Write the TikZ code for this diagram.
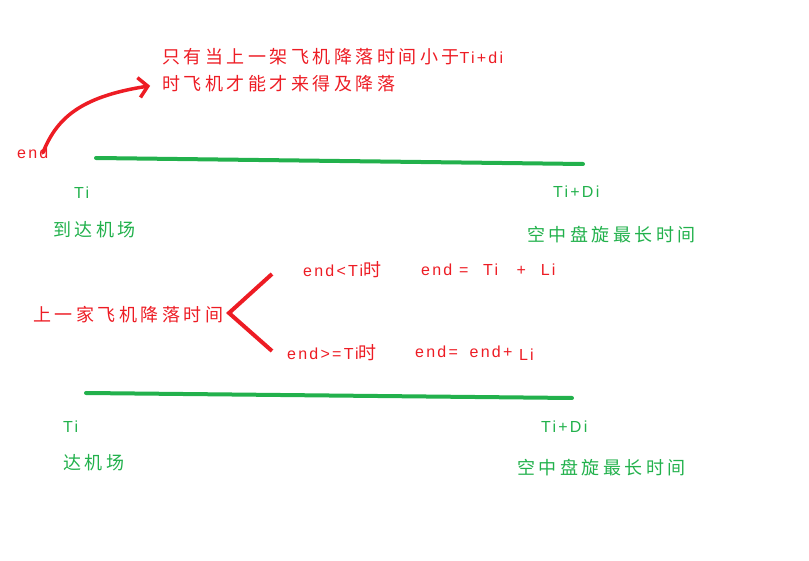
\documentclass[tikz,border=0pt]{standalone}
\usepackage{fontspec}
\usetikzlibrary{arrows.meta}
\newfontfamily\cjk[LetterSpace=19.4]{Noto Sans CJK SC}
\newfontfamily\latfont[LetterSpace=14]{Liberation Sans}
\newcommand{\latn}[1]{{\fontsize{16}{20}\selectfont\latfont #1}}
\definecolor{paintred}{RGB}{237,28,36}
\definecolor{paintgreen}{RGB}{34,177,76}
\tikzset{
  redtxt/.style={text=paintred, anchor=west, inner sep=0pt, font=\fontsize{18}{20}\selectfont\cjk},
  grntxt/.style={text=paintgreen, anchor=west, inner sep=0pt, font=\fontsize{18}{20}\selectfont\cjk},
  timeline/.style={draw=paintgreen, line width=4pt, line cap=round},
  redline/.style={draw=paintred, line width=3.5pt, line cap=round}
}
\begin{document}
\begin{tikzpicture}[x=1pt,y=-1pt]
	  \useasboundingbox (0,0) rectangle (809,561);
	  \node[redtxt] (note1) at (162,57) {只有当上一架飞机降落时间小于\latn{Ti+di}};
	  \node[redtxt] (note2) at (162,84) {时飞机才能才来得及降落};
	  \node[redtxt] (endlbl) at (17,153) {\latn{end}};
	  
	  \coordinate (a1) at (96,158);
	  \coordinate (b1) at (583,164);
	  \node[grntxt] (ti1) at (74,193) {\latn{Ti}};
	  \node[grntxt] (arr1) at (53,230) {到达机场};
	  \node[grntxt] (di1) at (553,192) {\latn{Ti+Di}};
	  \node[grntxt] (hold1) at (527,235) {空中盘旋最长时间};
	  
	  \node[redtxt] (prev) at (33,315) {上一家飞机降落时间};
	  \coordinate (brtop) at (272,274);
	  \coordinate (brmid) at (229,313);
	  \coordinate (brbot) at (272,351);
	  \node[redtxt] (c1) at (303,270) {\latn{end<Ti}时};
	  \node[redtxt] (r1) at (421,270) {\latn{end = \hspace{8pt}Ti \hspace{12pt}+ \hspace{8pt}Li}};
	  \node[redtxt] (c2) at (287,353) {\latn{end>=Ti}时};
	  \node[redtxt] (r2) at (415,353) {\latn{end= \hspace{5pt}end+ \raisebox{-3pt}{Li}}};
	  
	  \coordinate (a2) at (86,393);
	  \coordinate (b2) at (572,398);
	  \node[grntxt] (ti2) at (63,427) {\latn{Ti}};
	  \node[grntxt] (arr2) at (63,463) {达机场};
	  \node[grntxt] (di2) at (541,427) {\latn{Ti+Di}};
	  \node[grntxt] (hold2) at (517,468) {空中盘旋最长时间};
	  
	  \draw[redline, -{Straight Barb[length=9pt,width=20pt]}, shorten >=12pt] ([xshift=10pt,yshift=-6pt]endlbl.north) .. controls (56,120) and (78,97) .. (note2.west);
	  \draw[timeline] (a1) -- (b1);
	  \draw[redline, line width=4pt, line cap=butt] (brtop) -- (brmid) -- (brbot);
	  \draw[timeline] (a2) -- (b2);
	\end{tikzpicture}
\end{document}
